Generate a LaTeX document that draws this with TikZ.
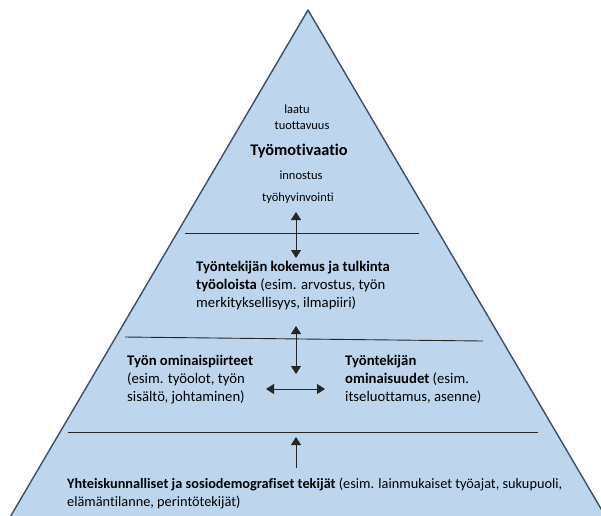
\documentclass[tikz,border=0pt]{standalone}
\usepackage{fontspec}
\setmainfont[Ligatures={NoCommon}]{Carlito}
\usetikzlibrary{arrows.meta}
\definecolor{pyrfill}{RGB}{189,214,238}
\definecolor{pyredge}{RGB}{62,78,100}
\tikzset{
  body/.style={inner sep=0pt, anchor=base west, align=left, font=\fontsize{14.7}{18.3}\selectfont},
  small/.style={inner sep=0pt, anchor=base, font=\fontsize{12.5}{14}\selectfont},
  title/.style={inner sep=0pt, anchor=base, font=\fontsize{16.3}{18}\selectfont\bfseries},
  divider/.style={line width=0.9pt, black!85},
  link/.style={line width=0.8pt, black!85, {Triangle[width=10pt,length=8pt]}-{Triangle[width=10pt,length=8pt]}},
  uplink/.style={line width=0.8pt, black!85, -{Triangle[width=10pt,length=8pt]}}
}
\begin{document}
\begin{tikzpicture}[x=1pt,y=-1pt]
\useasboundingbox (0,0) rectangle (601,515);
\begin{scope}
\clip (0,0) rectangle (601,515);
\draw[fill=pyrfill, draw=pyredge, line width=1.4pt, line join=round] (308,10) -- (627,553) -- (-11,553) -- cycle;
\end{scope}
% dividers
\coordinate (l1a) at (185,233); \coordinate (l1b) at (419,233);
\coordinate (l2a) at (125,337); \coordinate (l2b) at (483,341);
\coordinate (l3a) at (68,432);  \coordinate (l3b) at (538,432);
\draw[divider] (l1a) -- (l1b);
\draw[divider] (l2a) -- (l2b);
\draw[divider] (l3a) -- (l3b);
% top texts
\node[small] (lt) at (297,113) {laatu};
\node[small] (tv) at (302,129) {tuottavuus};
\node[title] (tm) at (299,155) {Työmotivaatio};
\node[small] (inn) at (301,179) {innostus};
\node[small] (th) at (298,201) {työhyvinvointi};
% middle texts (anchor = baseline of last line)
\node[body] (kok) at (196,307.6) {\textbf{Työntekijän kokemus ja tulkinta}\\\textbf{työoloista} (esim. arvostus, työn\\merkityksellisyys, ilmapiiri)};
\node[body] (omp) at (127,401.6) {\textbf{Työn ominaispiirteet}\\(esim. työolot, työn\\sisältö, johtaminen)};
\node[body] (oms) at (345,401.6) {\textbf{Työntekijän}\\\textbf{ominaisuudet} (esim.\\itseluottamus, asenne)};
\node[body, font=\fontsize{14.3}{18.3}\selectfont] (yht) at (67,506.3) {\textbf{Yhteiskunnalliset ja sosiodemografiset tekijät} (esim. lainmukaiset työajat, sukupuoli,\\elämäntilanne, perintötekijät)};
% arrows
\coordinate (a1t) at (296,212); \coordinate (a1b) at (296,258);
\coordinate (a2t) at (296,326); \coordinate (a2b) at (296,374);
\coordinate (hl) at (266,389);  \coordinate (hr) at (325,389);
\coordinate (a3s) at (296,468); \coordinate (a3e) at (296,437);
\draw[link] (a1t) -- (a1b);
\draw[link] (a2t) -- (a2b);
\draw[link] (hl) -- (hr);
\draw[uplink] (a3s) -- (a3e);
\end{tikzpicture}
\end{document}
